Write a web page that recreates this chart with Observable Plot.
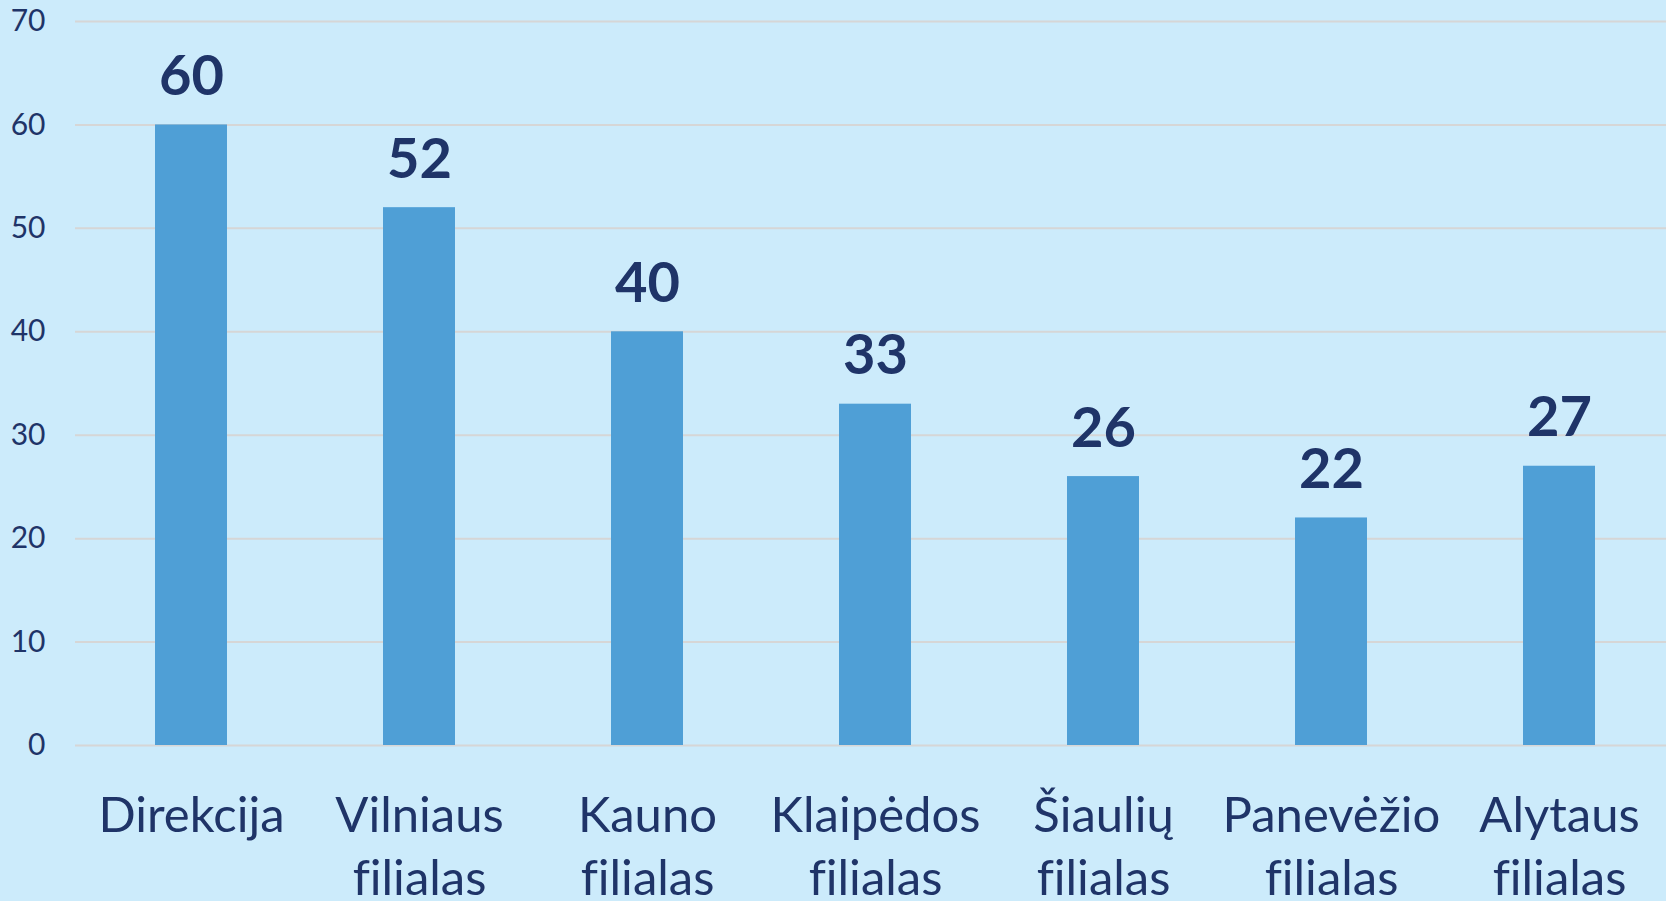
<!DOCTYPE html>
<html>
<head>
<meta charset="utf-8">
<script src="https://cdn.jsdelivr.net/npm/d3@7"></script>
<script src="https://cdn.jsdelivr.net/npm/@observablehq/plot@0.6"></script>
<style>
  html, body { margin: 0; padding: 0; background: #CCEBFB; overflow: hidden; }
  #chart svg { display: block; }
  #chart svg text { font-variant-ligatures: none; }
</style>
</head>
<body>
<div id="chart"></div>
<script>
const categories = ["Direkcija", "Vilniaus\nfilialas", "Kauno\nfilialas", "Klaipėdos\nfilialas", "Šiaulių\nfilialas", "Panevėžio\nfilialas", "Alytaus\nfilialas"];
const values = [60, 52, 40, 33, 26, 22, 27];
const yTicks = [0, 10, 20, 30, 40, 50, 60, 70];

const data = categories.map((c, i) => ({category: c, value: values[i]}));
const navy = "#1F3468";

const chart = Plot.plot({
  width: 1666,
  height: 901,
  marginTop: 21,
  marginBottom: 156,
  marginLeft: 75,
  marginRight: 0,
  style: {background: "#CCEBFB", fontFamily: "Lato, sans-serif", color: navy},
  x: {domain: categories, range: [76, 1674], paddingInner: 0.685, paddingOuter: 0.3425, align: 0.5},
  y: {domain: [0, 70], ticks: yTicks},
  marks: [
    Plot.ruleY(yTicks, {stroke: "#D6D6D6", strokeWidth: 2}),
    Plot.barY(data, {x: "category", y: "value", fill: "#4F9FD6"}),
    Plot.text(data, {x: "category", y: "value", text: d => String(d.value), lineAnchor: "bottom", dy: -30, fontSize: 56, fontWeight: "bold", fill: navy}),
    Plot.axisY({ticks: yTicks, tickSize: 0, tickPadding: 30, fontSize: 30, fill: navy, label: null}),
    Plot.axisX({tickSize: 0, tickPadding: 41, fontSize: 49, lineHeight: 1.3, fill: navy, label: null})
  ]
});
document.getElementById("chart").appendChild(chart);
</script>
</body>
</html>
